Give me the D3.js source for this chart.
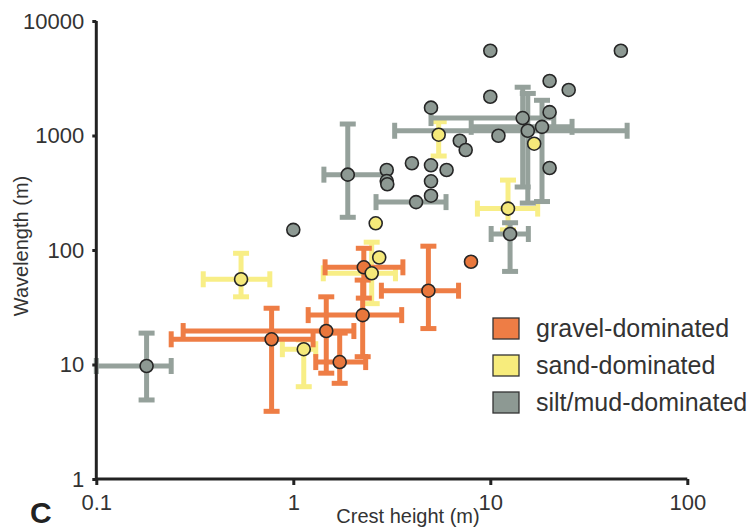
<!DOCTYPE html>
<html><head><meta charset="utf-8">
<script src="https://cdn.jsdelivr.net/npm/d3@7/dist/d3.min.js"></script>
<style>
html,body{margin:0;padding:0;background:#fff;}
svg{display:block;font-family:"Liberation Sans",Arial,sans-serif;}
</style></head>
<body>
<svg id="chart" width="752" height="531"></svg>
<script>
// rows: [crest height, wavelength, xLow, xHigh, yLow, yHigh] (null = no error bar)
const gravel = [
  [0.776, 16.6, 0.24, 1.26, 3.9, 31],
  [1.47, 19.6, 0.276, 2.03, 8.4, 39],
  [1.72, 10.5, 1.3, 2.33, 6.85, 18.8],
  [2.25, 27, 1.19, 3.55, 11.7, 54.6],
  [2.28, 70.6, 1.45, 3.6, 38, 103.5],
  [4.85, 44.1, 2.8, 6.9, 20.6, 108],
  [7.98, 79, null, null, null, null]
];
const sand = [
  [0.543, 55.5, 0.349, 0.76, 39, 93.6],
  [1.13, 13.6, 0.88, 1.3, 6.4, 16.4],
  [2.5, 62.6, 1.42, 3.3, 34, 117],
  [2.73, 86, null, null, null, null],
  [2.62, 171, null, null, null, null],
  [5.47, 1016, null, null, 662, 1320],
  [16.7, 848, null, null, null, null],
  [12.3, 230, 8.6, 17.4, 150, 408]
];
const silt = [
  [0.18, 9.7, 0.1, 0.24, 4.9, 18.8],
  [1.0, 150, null, null, null, null],
  [1.89, 455, 1.43, 2.95, 193, 1260],
  [2.98, 500, null, null, null, null],
  [2.98, 400, null, null, null, null],
  [3.0, 375, null, null, null, null],
  [4.0, 572, null, null, null, null],
  [5.0, 549, null, null, null, null],
  [6.0, 500, null, null, null, null],
  [5.0, 398, null, null, null, null],
  [5.0, 298, null, null, null, null],
  [4.2, 262, 2.63, 5.96, null, null],
  [5.0, 1750, null, null, null, null],
  [7.0, 900, null, null, null, null],
  [7.5, 747, null, null, null, null],
  [10, 5500, null, null, null, null],
  [46, 5500, null, null, null, null],
  [20, 2990, null, null, null, null],
  [25, 2500, null, null, null, null],
  [10, 2180, null, null, null, null],
  [20, 1600, null, null, null, null],
  [14.6, 1420, 5.0, 21, 355, 2640],
  [15.5, 1100, 3.27, 49.5, 257, 2330],
  [18.3, 1190, 8.0, 26, 265, 2030],
  [11, 995, null, null, null, null],
  [20, 520, null, null, null, null],
  [12.6, 138, 10.1, 15.6, 65, 173]
];
const xTicks = [0.1, 1, 10, 100];
const yTicks = [1, 10, 100, 1000, 10000];
const seriesNames = ["gravel-dominated", "sand-dominated", "silt/mud-dominated"];

const colors = {
  gravel: {bar: "#EE7D45", fill: "#E9773C"},
  sand:   {bar: "#F8EE86", fill: "#F5E97A"},
  silt:   {bar: "#95A19B", fill: "#8D9993"}
};

const svg = d3.select("#chart");
const x = d3.scaleLog().domain([0.1, 100]).range([96.3, 687.3]);
const y = d3.scaleLog().domain([1, 10000]).range([479, 21]);

const barW = 5, capHalf = 8;

function drawBars(data, col) {
  const g = svg.append("g");
  data.forEach(d => {
    const [cx, cy, xl, xh, yl, yh] = d;
    if (xl != null) {
      g.append("line").attr("x1", x(xl)).attr("x2", x(xh)).attr("y1", y(cy)).attr("y2", y(cy))
        .attr("stroke", col).attr("stroke-width", barW);
      [xl, xh].forEach(v => g.append("line").attr("x1", x(v)).attr("x2", x(v))
        .attr("y1", y(cy) - capHalf).attr("y2", y(cy) + capHalf)
        .attr("stroke", col).attr("stroke-width", barW));
    }
    if (yl != null) {
      g.append("line").attr("x1", x(cx)).attr("x2", x(cx)).attr("y1", y(yl)).attr("y2", y(yh))
        .attr("stroke", col).attr("stroke-width", barW);
      [yl, yh].forEach(v => g.append("line").attr("y1", y(v)).attr("y2", y(v))
        .attr("x1", x(cx) - capHalf).attr("x2", x(cx) + capHalf)
        .attr("stroke", col).attr("stroke-width", barW));
    }
  });
}
function drawPoints(data, col) {
  svg.append("g").selectAll("circle").data(data).join("circle")
    .attr("cx", d => x(d[0])).attr("cy", d => y(d[1])).attr("r", 6.5)
    .attr("fill", col).attr("stroke", "#262626").attr("stroke-width", 1.6);
}

drawBars(sand, colors.sand.bar);
drawBars(gravel, colors.gravel.bar);
drawBars(silt, colors.silt.bar);
drawPoints(silt, colors.silt.fill);
drawPoints(gravel, colors.gravel.fill);
drawPoints(sand, colors.sand.fill);

// axes
const xAxis = d3.axisBottom(x).tickValues(xTicks).tickFormat(d3.format("")).tickSize(6).tickPadding(8);
const yAxis = d3.axisLeft(y).tickValues(yTicks).tickFormat(d3.format("")).tickSize(4).tickPadding(8);

const gx = svg.append("g").attr("transform", "translate(0,479)").call(xAxis);
const gy = svg.append("g").attr("transform", "translate(96.3,0)").call(yAxis);
[gx, gy].forEach(g => {
  g.select(".domain").attr("stroke", "#222").attr("stroke-width", 3);
  g.selectAll(".tick line").attr("stroke", "#222").attr("stroke-width", 3);
  g.selectAll(".tick text").attr("fill", "#333").attr("font-size", 22)
    .attr("font-family", "'Liberation Sans', Arial, sans-serif");
});
gx.select(".domain").attr("d", "M96.3,0H687.3");
gy.select(".domain").attr("d", "M0,21V479");
gx.selectAll(".tick text").attr("dy", "0.75em");

// axis titles
svg.append("text").attr("x", 408).attr("y", 523).attr("text-anchor", "middle")
  .attr("font-size", 20).attr("fill", "#333").text("Crest height (m)");
svg.append("text").attr("transform", "translate(28,246) rotate(-90)").attr("text-anchor", "middle")
  .attr("font-size", 20).attr("fill", "#333").text("Wavelength (m)");

// panel letter
svg.append("text").attr("x", 30).attr("y", 523).attr("font-size", 30).attr("font-weight", "bold")
  .attr("fill", "#222").text("C");

// legend
const legCols = [colors.gravel.bar, "#F7EC7C", colors.silt.fill];
const leg = svg.append("g");
seriesNames.forEach((n, i) => {
  const yy = 318 + i * 37;
  leg.append("rect").attr("x", 493).attr("y", yy).attr("width", 26).attr("height", 21)
    .attr("fill", legCols[i]).attr("stroke", "#333").attr("stroke-width", 1.3);
  leg.append("text").attr("x", 536).attr("y", yy + 19).attr("font-size", 25)
    .attr("fill", "#333").text(n);
});
</script>
</body></html>
